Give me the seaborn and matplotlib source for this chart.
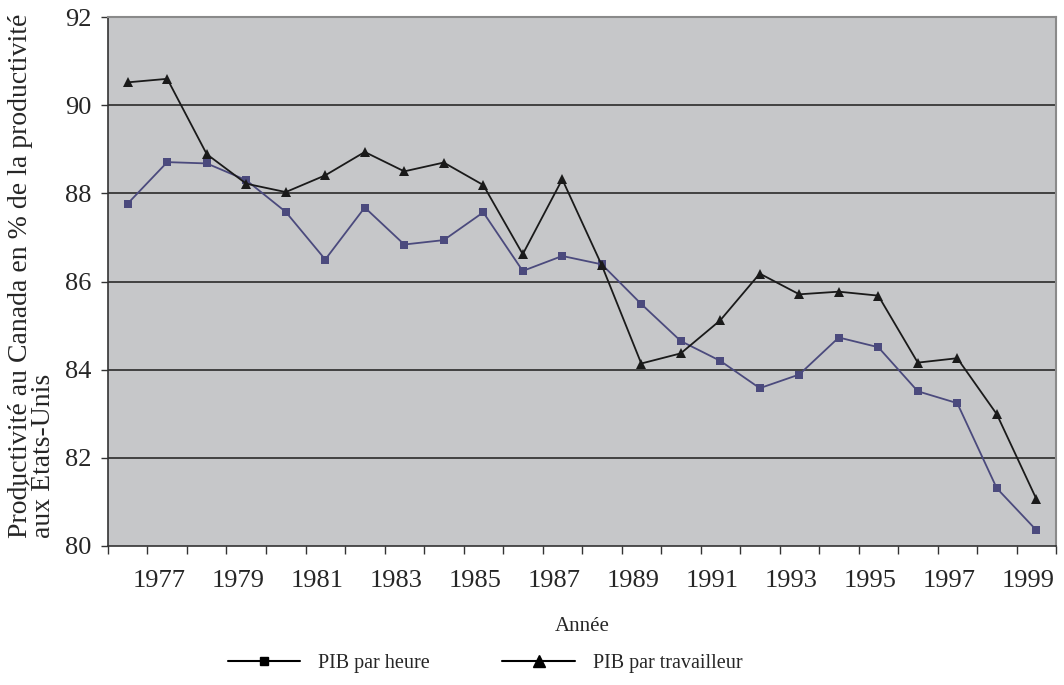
import matplotlib
matplotlib.use('Agg')
import matplotlib.pyplot as plt
from matplotlib.lines import Line2D
from matplotlib.transforms import ScaledTranslation
import seaborn as sns
import numpy as np
import pandas as pd

annees = list(range(1976, 2000))
pib_heure = [87.77, 88.71, 88.68, 88.30, 87.58, 86.50, 87.68, 86.84, 86.94, 87.57,
             86.24, 86.58, 86.39, 85.49, 84.65, 84.20, 83.58, 83.89, 84.73, 84.51,
             83.51, 83.24, 81.31, 80.36]
pib_travailleur = [90.52, 90.60, 88.89, 88.22, 88.03, 88.41, 88.94, 88.50, 88.70, 88.19,
                   86.62, 88.32, 86.37, 84.14, 84.37, 85.12, 86.18, 85.71, 85.77, 85.68,
                   84.16, 84.26, 82.99, 81.07]
etiquettes = [str(a) for a in range(1977, 2000, 2)]

df = pd.DataFrame({'annee': annees, 'heure': pib_heure, 'travailleur': pib_travailleur})

sns.set_style('white')
plt.rcParams['font.family'] = ['Liberation Serif', 'DejaVu Serif']

fig = plt.figure(figsize=(10.64, 6.85), dpi=100)
ax = fig.add_axes([0.1015, 0.203, 0.891, 0.772])
ax.set_facecolor('#c6c7c9')

sns.lineplot(data=df, x='annee', y='heure', ax=ax, color='#4b4a7d', lw=1.3,
             marker='s', markersize=6, markeredgewidth=0, zorder=3)
sns.lineplot(data=df, x='annee', y='travailleur', ax=ax, color='#1a1a1a', lw=1.3,
             marker='^', markersize=7.5, markeredgewidth=0, zorder=4)

ax.set_xlim(annees[0] - 0.5, annees[-1] + 0.5)
ax.set_ylim(80, 92)
ax.set_yticks(np.arange(80, 93, 2))
ax.tick_params(axis='y', labelsize=19, length=5, width=1, color='#333333', direction='out', left=True, pad=7)
for yv in range(82, 92, 2):
    ax.axhline(yv, color='#2a2a2a', lw=1.2, zorder=1)

ax.set_xticks([int(e) for e in etiquettes])
ax.set_xticklabels(etiquettes)
ax.tick_params(axis='x', which='major', labelsize=19, length=0, pad=17)
ax.set_xticks(np.arange(annees[0] - 0.5, annees[-1] + 1, 1), minor=True)
ax.tick_params(axis='x', which='minor', length=6, width=1, color='#333333', direction='out', bottom=True)
# les etiquettes d'annee sont un peu decalees vers la gauche dans l'original
decalage = ScaledTranslation(-8 / 100, 0, fig.dpi_scale_trans)
for lbl in ax.get_xticklabels():
    lbl.set_transform(lbl.get_transform() + decalage)

for cote in ['left', 'bottom']:
    ax.spines[cote].set_color('#333333')
    ax.spines[cote].set_linewidth(1.2)
for cote in ['top', 'right']:
    ax.spines[cote].set_color('#8a8a8a')
    ax.spines[cote].set_linewidth(1.5)

ax.set_xlabel('Année', fontsize=15, labelpad=18)
ax.set_ylabel('Productivité au Canada en % de la productivité\naux États-Unis',
              fontsize=20, labelpad=6, linespacing=0.9, multialignment='left', y=0.51)

poignees = [Line2D([], [], color='black', lw=1.5, marker='s', markersize=6),
            Line2D([], [], color='black', lw=1.5, marker='^', markersize=8)]
fig.legend(poignees, ['PIB par heure', 'PIB par travailleur'], loc='center',
           bbox_to_anchor=(0.456, 0.032), ncol=2, frameon=False, fontsize=14.5,
           handlelength=3.6, columnspacing=3.6, handletextpad=0.9)

fig.savefig('out.png', dpi=100)
